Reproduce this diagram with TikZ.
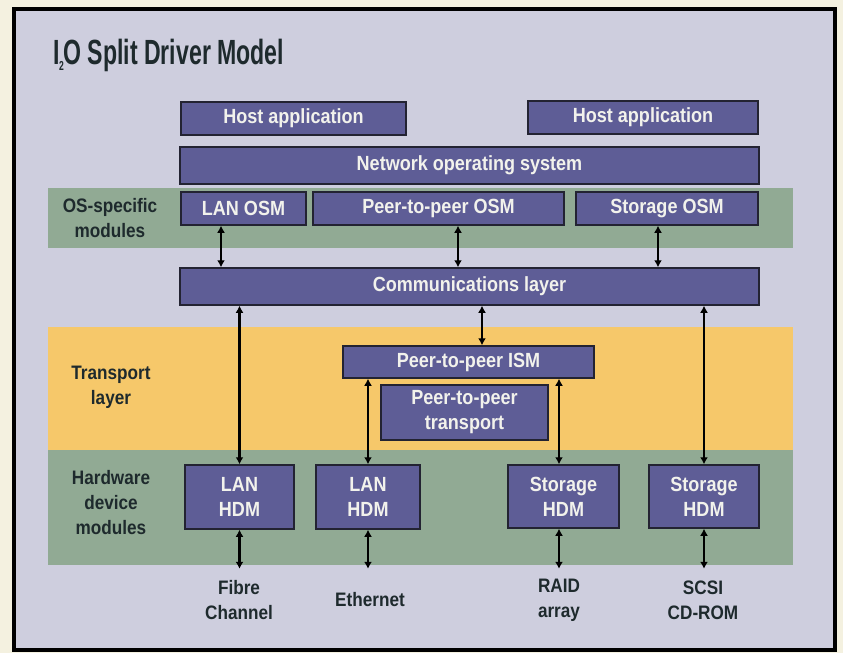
\documentclass[tikz,border=0pt]{standalone}
\usepackage{fontspec}
\setmainfont{Liberation Sans}[FakeStretch=0.88]
\newfontfamily\titlefont{Liberation Sans}[FakeStretch=0.66]
\usetikzlibrary{arrows.meta}
\definecolor{paper}{RGB}{244,241,224}
\definecolor{lavender}{RGB}{206,206,222}
\definecolor{modblue}{RGB}{94,93,150}
\definecolor{modedge}{RGB}{35,35,50}
\definecolor{modtext}{RGB}{242,242,236}
\definecolor{bandgreen}{RGB}{145,170,148}
\definecolor{bandyellow}{RGB}{246,200,106}
\definecolor{labeltext}{RGB}{30,42,45}
\newcommand{\boxfont}{\fontsize{20.5}{25}\selectfont\bfseries}
\newcommand{\labelfont}{\fontsize{19.5}{25}\selectfont\bfseries}

\begin{document}
\begin{tikzpicture}[x=1pt, y=-1pt,
  module/.style={draw=modedge, line width=1.5pt, fill=modblue, text=modtext,
    font=\boxfont, inner sep=0pt, align=center},
  sidelabel/.style={text=labeltext, font=\labelfont, align=center, inner sep=0pt},
  endlabel/.style={sidelabel, minimum height=62pt},
  busline/.style={line width=2.6pt, {Latex[length=7pt,width=8pt]}-{Latex[length=7pt,width=8pt]}}]
\useasboundingbox (0,0) rectangle (843,653);
\fill[paper] (0,0) rectangle (843,653);
\draw[line width=4pt, fill=lavender] (14,9) rectangle (835,650);

% layer bands
\fill[bandgreen] (48,188) rectangle (793,248);
\fill[bandyellow] (48,327) rectangle (793,450);
\fill[bandgreen] (48,450) rectangle (793,565);

\node[anchor=base west, inner sep=0pt, text=labeltext, font=\fontsize{35}{40}\selectfont\titlefont\bfseries]
  (title) at (53,64) {I\kern-0.5pt\raisebox{-6pt}{\fontsize{13}{13}\selectfont 2}\kern-0.5pt O Split Driver Model};

% side labels
\node[sidelabel] (oslbl) at (110,218) {OS-specific\\modules};
\node[sidelabel] (translbl) at (111,387) {Transport\\layer};
\node[sidelabel] (hwlbl) at (111,503) {Hardware\\device\\modules};

% modules
\node[module, minimum width=225pt, minimum height=33pt] (hostA) at (293.5,118.5) {Host application};
\node[module, minimum width=230pt, minimum height=33pt] (hostB) at (643,117.5) {Host application};
\node[module, minimum width=579pt, minimum height=37pt] (nos) at (469.5,165.5) {Network operating system};
\node[module, minimum width=125pt, minimum height=33pt] (lanosm) at (243.5,208.5) {LAN OSM};
\node[module, minimum width=251pt, minimum height=33pt] (p2posm) at (438.5,208.5) {Peer-to-peer OSM};
\node[module, minimum width=182pt, minimum height=33pt] (storosm) at (667,208.5) {Storage OSM};
\node[module, minimum width=579pt, minimum height=37pt] (comm) at (469.5,286.5) {Communications layer};
\node[module, minimum width=251pt, minimum height=32pt] (ism) at (468.5,362) {Peer-to-peer ISM};
\node[module, minimum width=167pt, minimum height=55pt] (ptrans) at (464.5,412.5) {Peer-to-peer\\transport};
\node[module, minimum width=109pt, minimum height=64pt] (lanhdmA) at (239.5,497) {LAN\\HDM};
\node[module, minimum width=104pt, minimum height=64pt] (lanhdmB) at (368,497) {LAN\\HDM};
\node[module, minimum width=111pt, minimum height=63pt] (storhdmA) at (563.5,496.5) {Storage\\HDM};
\node[module, minimum width=110pt, minimum height=63pt] (storhdmB) at (704,496.5) {Storage\\HDM};

% devices
\node[endlabel] (fibre) at (239,600) {Fibre\\Channel};
\node[endlabel] (ether) at (370,600) {Ethernet};
\node[endlabel] (raid) at (559,600) {RAID\\array};
\node[endlabel] (scsi) at (703,600) {SCSI\\CD-ROM};

% connections
\draw[busline] ([xshift=-22.5pt]lanosm.south) -- ([xshift=-22.5pt]lanosm.south |- comm.north);
\draw[busline] ([xshift=19.5pt]p2posm.south) -- ([xshift=19.5pt]p2posm.south |- comm.north);
\draw[busline] ([xshift=-9pt]storosm.south) -- ([xshift=-9pt]storosm.south |- comm.north);
\draw[busline] (lanhdmA.north |- comm.south) -- (lanhdmA.north);
\draw[busline] ([xshift=13.5pt]ism.north |- comm.south) -- ([xshift=13.5pt]ism.north);
\draw[busline] (storhdmB.north |- comm.south) -- (storhdmB.north);
\draw[busline] (lanhdmB.north |- ism.south) -- (lanhdmB.north);
\draw[busline] ([xshift=-4.5pt]storhdmA.north |- ism.south) -- ([xshift=-4.5pt]storhdmA.north);
\draw[busline] (lanhdmA.south) -- (lanhdmA.south |- fibre.north);
\draw[busline] (lanhdmB.south) -- (lanhdmB.south |- ether.north);
\draw[busline] ([xshift=-4.5pt]storhdmA.south) -- ([xshift=-4.5pt]storhdmA.south |- raid.north);
\draw[busline] (storhdmB.south) -- (storhdmB.south |- scsi.north);
\end{tikzpicture}
\end{document}
